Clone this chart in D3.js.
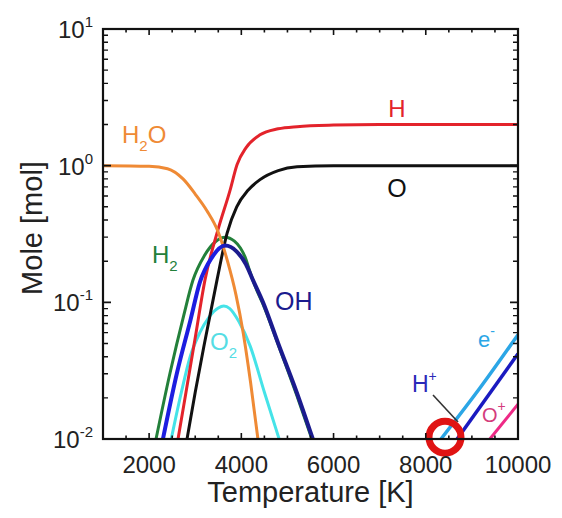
<!DOCTYPE html>
<html>
<head>
<meta charset="utf-8">
<script src="https://cdn.jsdelivr.net/npm/d3@7"></script>
<style>
  body { margin: 0; background: #fff; }
  text { font-family: "Liberation Sans", Arial, sans-serif; }
</style>
</head>
<body>
<div id="chart"></div>
<script>
// mole amounts, [temperature K, mol]
var h2o = [[1000, 1], [2000, 0.99], [2400, 0.95], [2735, 0.8], [3000, 0.62], [3250, 0.47], [3494, 0.33],
           [3700, 0.2], [3885, 0.113], [4040, 0.06], [4200, 0.026], [4360, 0.01]]
var h = [[2627, 0.01], [2800, 0.022], [3000, 0.055], [3212, 0.146], [3494, 0.34], [3755, 0.66], [3908, 1.02],
         [4100, 1.35], [4405, 1.68], [4800, 1.86], [5208, 1.93], [6000, 1.98], [7000, 2], [10000, 2]]
var o = [[2822, 0.01], [3000, 0.022], [3200, 0.05], [3473, 0.146], [3690, 0.32], [3900, 0.5], [4145, 0.66],
         [4405, 0.79], [4800, 0.92], [5208, 0.98], [6000, 1], [10000, 1]]
var h2 = [[2150, 0.01], [2450, 0.03], [2750, 0.08], [2950, 0.145], [3200, 0.22], [3450, 0.28], [3650, 0.3],
          [3850, 0.28], [3980, 0.25], [4080, 0.215], [4180, 0.17], [4300, 0.131], [4470, 0.097], [4800, 0.049],
          [5200, 0.021], [5530, 0.01]]
var oh = [[2300, 0.01], [2600, 0.03], [2900, 0.075], [3100, 0.14], [3350, 0.21], [3650, 0.26], [3900, 0.235],
          [4100, 0.19], [4250, 0.146], [4470, 0.1], [4800, 0.05], [5200, 0.022], [5550, 0.01]]
var o2 = [[2480, 0.01], [2700, 0.022], [2890, 0.04], [3100, 0.06], [3300, 0.078], [3500, 0.091], [3620, 0.094],
          [3750, 0.09], [3950, 0.072], [4190, 0.048], [4500, 0.022], [4820, 0.01]]
var eMinus = [[8330, 0.01], [9178, 0.0237], [10000, 0.058]]
var hPlus = [[8680, 0.01], [10000, 0.042]]
var oPlus = [[9390, 0.01], [10000, 0.018]]

var xTicks = [2000, 4000, 6000, 8000, 10000]
var yExponents = [-2, -1, 0, 1]

var width = 562
var height = 518

var x = d3.scaleLinear().domain([1000, 10000]).range([103, 518])
var y = d3.scaleLog().domain([0.01, 10]).range([439, 29])

var svg = d3.select("#chart").append("svg")
    .attr("width", width)
    .attr("height", height)

svg.append("clipPath").attr("id", "plot-clip")
  .append("rect")
    .attr("x", x(1000)).attr("y", y(10))
    .attr("width", x(10000) - x(1000)).attr("height", y(0.01) - y(10))

// OH goes from bright blue on the rising side to navy on the falling side
var grad = svg.append("defs").append("linearGradient")
    .attr("id", "oh-grad")
    .attr("gradientUnits", "userSpaceOnUse")
    .attr("x1", x(3500)).attr("x2", x(3800))
    .attr("y1", 0).attr("y2", 0)
grad.append("stop").attr("offset", 0).attr("stop-color", "#1d1de0")
grad.append("stop").attr("offset", 1).attr("stop-color", "#1b1b8e")

var line = d3.line()
    .x(d => x(d[0]))
    .y(d => y(d[1]))
    .curve(d3.curveMonotoneX)

var series = [
  { data: h2, color: "#23803a", w: 3 },
  { data: o2, color: "#45e3e8", w: 3 },
  { data: h, color: "#e3232b", w: 3 },
  { data: o, color: "#111", w: 3 },
  { data: h2o, color: "#ef8a35", w: 3 },
  { data: oh, color: "url(#oh-grad)", w: 4 },
  { data: eMinus, color: "#2ba6e6", w: 3.5 },
  { data: hPlus, color: "#1a1ac0", w: 3.5 },
  { data: oPlus, color: "#ee2a86", w: 3 }
]

var curves = svg.append("g").attr("clip-path", "url(#plot-clip)")
curves.selectAll("path")
  .data(series)
  .join("path")
    .attr("d", d => line(d.data))
    .attr("fill", "none")
    .attr("stroke", d => d.color)
    .attr("stroke-width", d => d.w)
    .attr("stroke-linejoin", "round")

// annotation: leader line to H+ and red ring
svg.append("line")
    .attr("x1", x(8157)).attr("y1", y(0.021))
    .attr("x2", x(8699)).attr("y2", y(0.0133))
    .attr("stroke", "#333").attr("stroke-width", 1.6)

svg.append("circle")
    .attr("cx", x(8417)).attr("cy", y(0.0103))
    .attr("r", 16)
    .attr("fill", "none")
    .attr("stroke", "#e01414")
    .attr("stroke-width", 7)

// frame and inward ticks
var axes = svg.append("g").attr("stroke", "#111")

axes.append("rect")
    .attr("x", x(1000)).attr("y", y(10))
    .attr("width", x(10000) - x(1000)).attr("height", y(0.01) - y(10))
    .attr("fill", "none")
    .attr("stroke-width", 2.2)

var xMinor = d3.range(1500, 10000, 500)
axes.selectAll(".xt")
  .data(xMinor)
  .join("path")
    .attr("class", "xt")
    .attr("stroke-width", 1.6)
    .attr("d", function (t) {
      var len = t % 2000 === 0 ? 6 : 3.5
      return "M" + x(t) + "," + y(0.01) + "v" + (-len) + "M" + x(t) + "," + y(10) + "v" + len
    })

var yMinor = []
yExponents.slice(0, 3).forEach(function (e) {
  for (var k = 2; k <= 9; k++) yMinor.push(k * Math.pow(10, e))
})
axes.selectAll(".ytm")
  .data(yMinor)
  .join("path")
    .attr("class", "ytm")
    .attr("stroke-width", 1.4)
    .attr("d", v => "M" + x(1000) + "," + y(v) + "h5M" + x(10000) + "," + y(v) + "h-5")

axes.selectAll(".ytM")
  .data(yExponents)
  .join("path")
    .attr("class", "ytM")
    .attr("stroke-width", 1.8)
    .attr("d", e => "M" + x(1000) + "," + y(Math.pow(10, e)) + "h8M" + x(10000) + "," + y(Math.pow(10, e)) + "h-8")

// tick labels
svg.selectAll(".xl")
  .data(xTicks)
  .join("text")
    .attr("class", "xl")
    .attr("x", d => x(d))
    .attr("y", y(0.01) + 34)
    .attr("text-anchor", "middle")
    .attr("font-size", 24)
    .attr("fill", "#222")
    .text(d => d)

var yl = svg.selectAll(".yl")
  .data(yExponents)
  .join("text")
    .attr("class", "yl")
    .attr("x", 93)
    .attr("y", d => y(Math.pow(10, d)) + 9)
    .attr("text-anchor", "end")
    .attr("font-size", 24)
    .attr("fill", "#222")
yl.append("tspan").text("10")
yl.append("tspan")
    .attr("font-size", 15)
    .attr("dy", -11)
    .text(d => d)

// axis titles
svg.append("text")
    .attr("x", (x(1000) + x(10000)) / 2)
    .attr("y", 502)
    .attr("text-anchor", "middle")
    .attr("font-size", 29)
    .attr("fill", "#222")
    .text("Temperature [K]")

svg.append("text")
    .attr("transform", "translate(42," + 228 + ") rotate(-90)")
    .attr("text-anchor", "middle")
    .attr("font-size", 29)
    .attr("fill", "#222")
    .text("Mole [mol]")

// species labels: [T, mol] of baseline start, main text, sub/superscript
var labels = [
  { t: 1412, v: 1.466, main: "H", sub: "2", tail: "O", color: "#ef8a35", size: 24 },
  { t: 7376, v: 2.27, main: "H", color: "#e3232b", size: 24, anchor: "middle" },
  { t: 7376, v: 0.59, main: "O", color: "#111", size: 25, anchor: "middle" },
  { t: 2063, v: 0.194, main: "H", sub: "2", color: "#23803a", size: 24 },
  { t: 4730, v: 0.088, main: "OH", color: "#1b1b8e", size: 25 },
  { t: 3320, v: 0.0448, main: "O", sub: "2", color: "#55dde4", size: 24 },
  { t: 9133, v: 0.0471, main: "e", sup: "-", color: "#2ba6e6", size: 22 },
  { t: 7701, v: 0.0221, main: "H", sup: "+", color: "#2a2ab8", size: 23 },
  { t: 9220, v: 0.0133, main: "O", sup: "+", color: "#d43c7c", size: 20 }
]

labels.forEach(function (l) {
  var txt = svg.append("text")
      .attr("x", x(l.t))
      .attr("y", y(l.v))
      .attr("text-anchor", l.anchor || "start")
      .attr("font-size", l.size)
      .attr("fill", l.color)
  txt.append("tspan").text(l.main)
  if (l.sub) {
    txt.append("tspan").attr("font-size", 15).attr("dy", 8).text(l.sub)
    if (l.tail) txt.append("tspan").attr("font-size", l.size).attr("dy", -8).text(l.tail)
  }
  if (l.sup) txt.append("tspan").attr("font-size", 14).attr("dy", -11).text(l.sup)
})
</script>
</body>
</html>
